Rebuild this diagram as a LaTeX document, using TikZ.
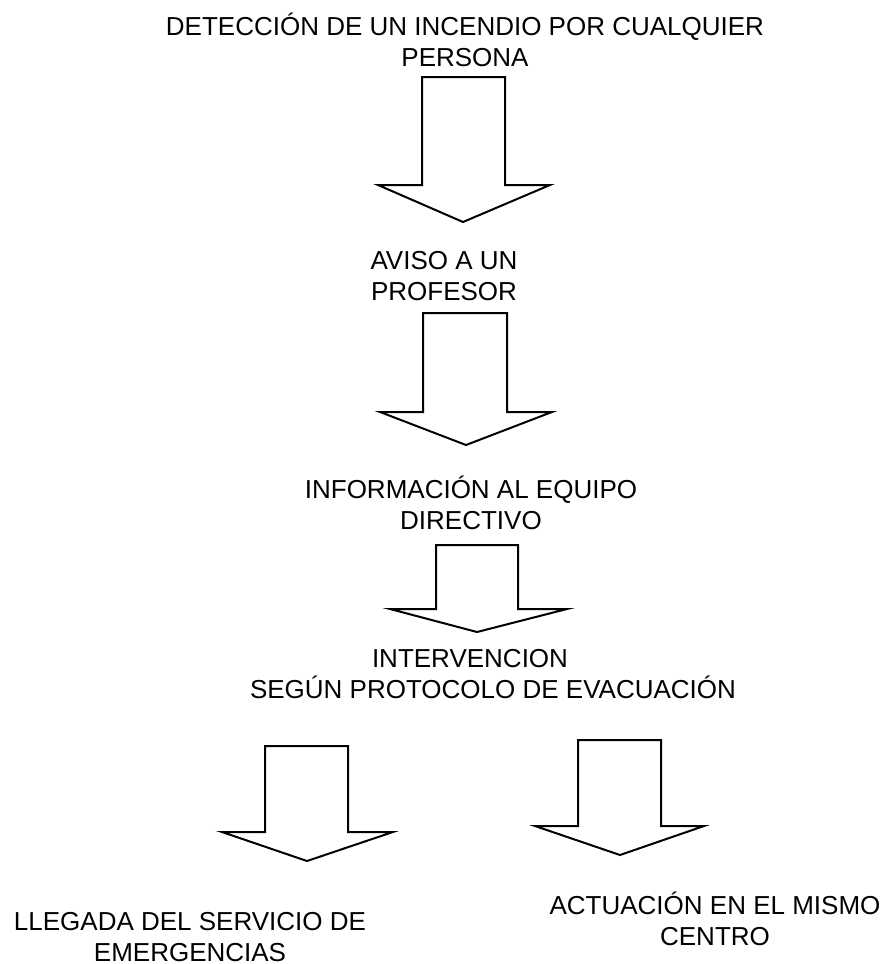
\documentclass[tikz,border=0pt]{standalone}
\usepackage{fontspec}
\setmainfont{Liberation Sans}
\usepackage{tikz}
\usetikzlibrary{calc}
\newcommand{\flecha}[8]{\draw[bloque] (#1,#3) -- (#2,#3) -- (#2,#4) -- (#6,#4) -- (#7,#8) -- (#5,#4) -- (#1,#4) -- cycle;}
\tikzset{
  bloque/.style={line width=2pt,fill=white},
  texto/.style={align=center,inner sep=0pt,anchor=base,font=\fontsize{26}{30.5}\selectfont}
}

\begin{document}
\begin{tikzpicture}[x=1pt,y=-1pt]
      \useasboundingbox[fill=white] (0,0) rectangle (888,964);

      % the base anchor sits on the last line
      \node[texto] (deteccion) at (465,66) {DETECCIÓN DE UN INCENDIO POR CUALQUIER\\PERSONA};
      \node[texto] (aviso) at (444,300) {AVISO A UN\\PROFESOR};
      \node[texto] (informacion) at (471,529) {INFORMACIÓN AL EQUIPO\\DIRECTIVO};
      \node[texto] (intervencion) at (493,698) {INTERVENCION\hspace*{46pt}\\SEGÚN PROTOCOLO DE EVACUACIÓN};
      \node[texto] (llegada) at (190,961) {LLEGADA DEL SERVICIO DE\\EMERGENCIAS};
      \node[texto] (actuacion) at (715,945) {ACTUACIÓN EN EL MISMO\\CENTRO};

      \flecha{422}{505}{77}{185}{378}{550}{463}{222}
      \flecha{423}{507}{313}{412}{380}{552}{466}{445}
      \flecha{436}{518}{545}{609}{390}{567}{477}{632}
      \flecha{265}{348}{746}{832}{222}{393}{307}{861}
      \flecha{578}{661}{740}{826}{535}{704}{620}{855}
    \end{tikzpicture}
\end{document}
